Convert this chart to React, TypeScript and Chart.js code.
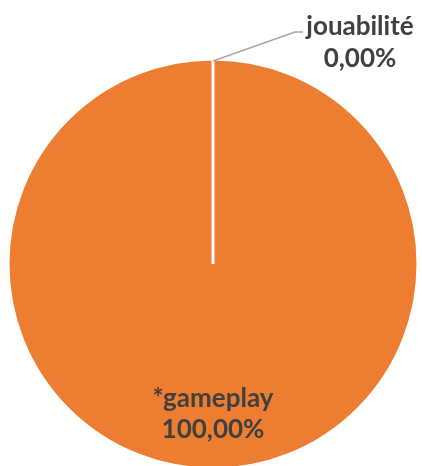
import React, { useEffect, useRef } from "react";
import { Chart, registerables } from "chart.js";

Chart.register(...registerables);

const categories = ["jouabilité", "*gameplay"];
const values = [0, 100];
const colors = ["#A5A5A5", "#ED7D31"];

const LABEL_FONT = "bold 26px Lato, 'Open Sans', sans-serif";
const LABEL_COLOR = "#404040";
const LEADER_COLOR = "#A6A6A6";

function fmtPct(v: number, total: number) {
  const p = total > 0 ? (v / total) * 100 : 0;
  return p.toFixed(2).replace(".", ",") + "%";
}

const labelPlugin = {
  id: "pieLabels",
  afterDatasetsDraw(chart: any) {
    const ctx = chart.ctx as CanvasRenderingContext2D;
    const meta = chart.getDatasetMeta(0);
    const data = chart.data.datasets[0].data as number[];
    const total = data.reduce((a, b) => a + b, 0);
    ctx.save();
    ctx.font = LABEL_FONT;
    ctx.fillStyle = LABEL_COLOR;
    ctx.textAlign = "center";
    ctx.textBaseline = "alphabetic";
    meta.data.forEach((arc: any, i: number) => {
      const { x, y, startAngle, endAngle, outerRadius } = arc.getProps(
        ["x", "y", "startAngle", "endAngle", "outerRadius"],
        true
      );
      const mid = (startAngle + endAngle) / 2;
      const name = chart.data.labels[i] as string;
      const pct = fmtPct(data[i], total);
      if (data[i] / total > 0.05) {
        const r = outerRadius * 0.735;
        const cx = x + Math.cos(mid) * r;
        const cy = y + Math.sin(mid) * r;
        ctx.fillText(name, cx, cy - 8);
        ctx.fillText(pct, cx, cy + 23);
      } else {
        const ax = x + Math.cos(mid) * (outerRadius - 2);
        const ay = y + Math.sin(mid) * (outerRadius - 2);
        const ex = ax + 82;
        const ey = ay - 29;
        ctx.strokeStyle = LEADER_COLOR;
        ctx.lineWidth = 1.5;
        ctx.beginPath();
        ctx.moveTo(ax, ay);
        ctx.lineTo(ex, ey);
        ctx.lineTo(ex + 8, ey);
        ctx.stroke();
        const tx = ex + 8 + 57;
        ctx.fillText(name, tx, ey + 3);
        ctx.fillText(pct, tx, ey + 35);
      }
    });
    ctx.restore();
  },
};

export default function App() {
  const ref = useRef<HTMLCanvasElement | null>(null);
  useEffect(() => {
    document.body.style.margin = "0";
    document.body.style.overflow = "hidden";
    const chart = new Chart(ref.current as HTMLCanvasElement, {
      type: "pie",
      data: {
        labels: categories,
        datasets: [
          {
            data: values,
            backgroundColor: colors,
            borderColor: "#FFFFFF",
            borderWidth: 3,
          },
        ],
      },
      options: {
        responsive: false,
        animation: false,
        events: [],
        layout: { padding: { left: 6.5, right: 2.5, top: 57.5, bottom: 9.5 } },
        plugins: {
          legend: { display: false },
          tooltip: { enabled: false },
        },
      },
      plugins: [labelPlugin],
    });
    return () => chart.destroy();
  }, []);
  return (
    <div style={{ width: 422, height: 466, overflow: "hidden", background: "#FFFFFF" }}>
      <canvas ref={ref} width={422} height={480} style={{ display: "block" }} />
    </div>
  );
}
